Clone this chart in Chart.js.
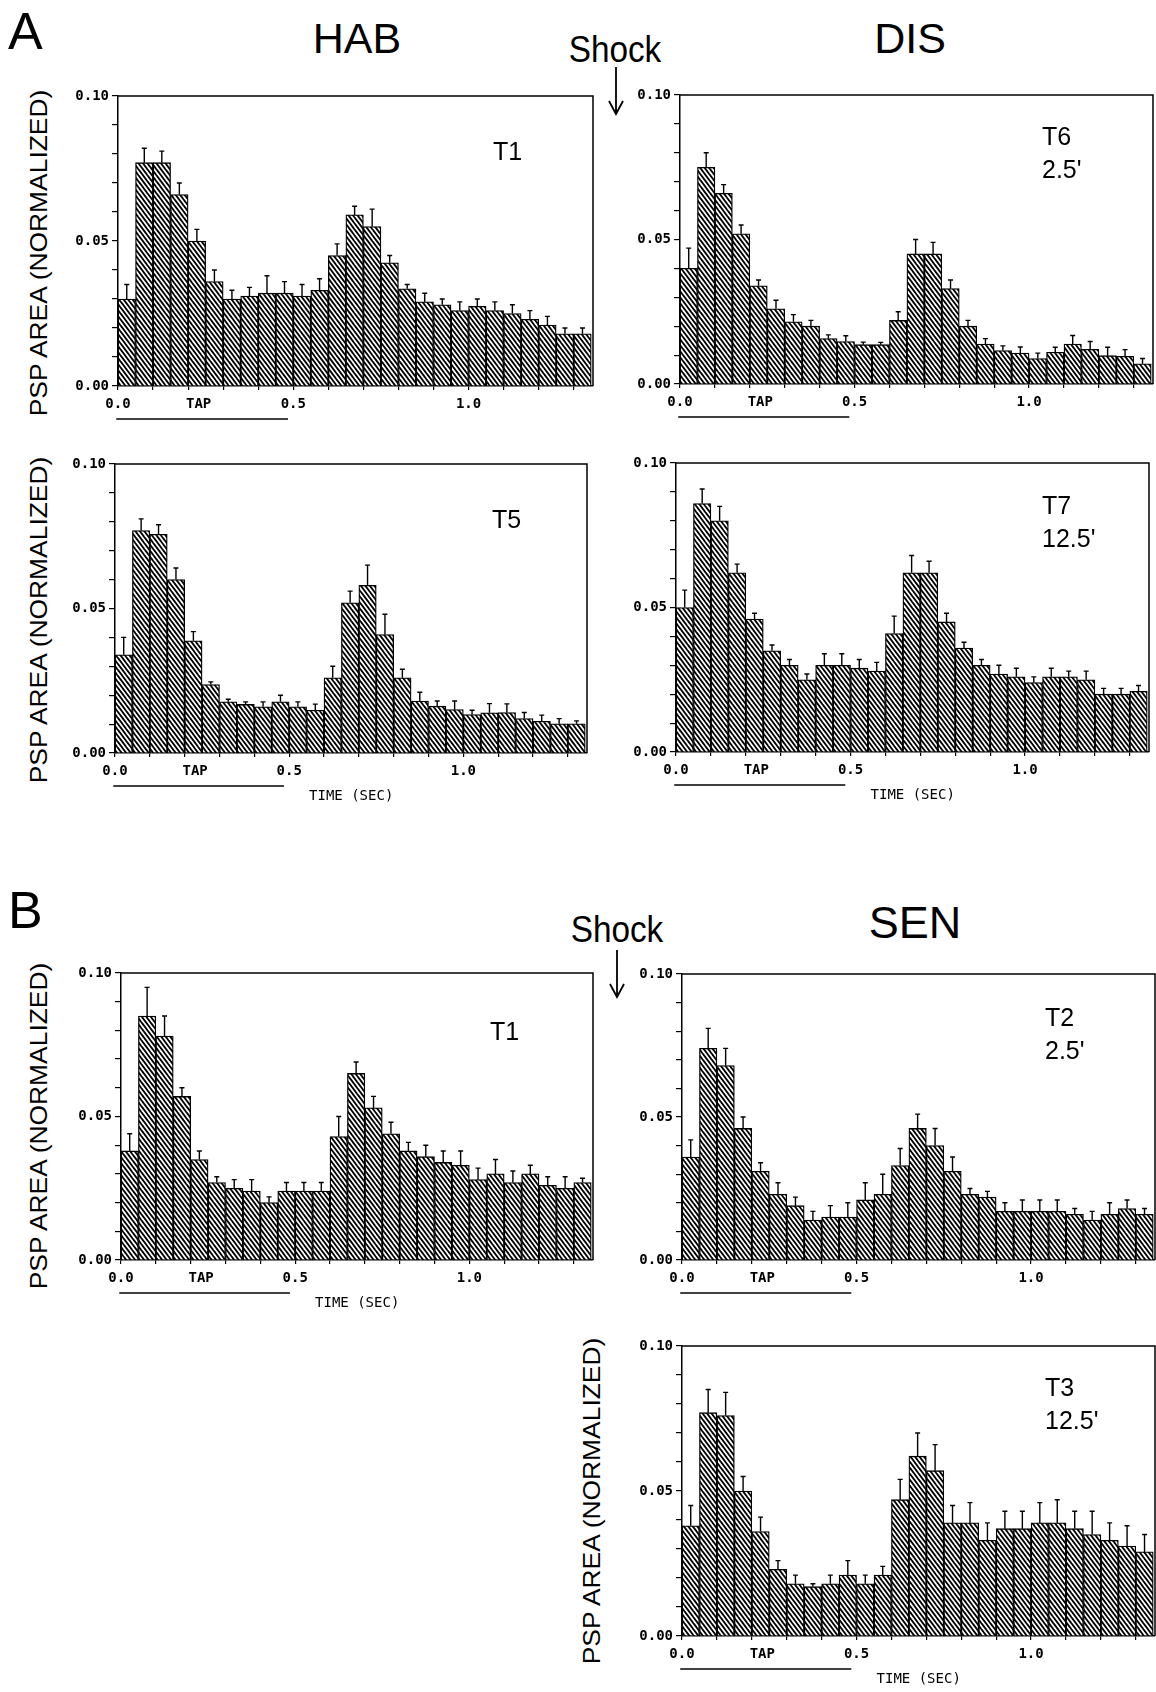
<!DOCTYPE html>
<html>
<head>
<meta charset="utf-8">
<script src="https://cdn.jsdelivr.net/npm/chart.js@4.4.1/dist/chart.umd.min.js"></script>
<style>
html, body { margin: 0; padding: 0; background: #fff; overflow: hidden; }
#page { position: relative; width: 1156px; height: 1692px; font-family: "Liberation Sans", Arial, sans-serif; color: #000; }
.box { position: absolute; }
.lbl { position: absolute; white-space: nowrap; line-height: 1; }
.ctr { transform: translateX(-50%); }
.ytitle { position: absolute; white-space: nowrap; font-size: 24px; line-height: 1;
  transform: translate(-50%, -50%) rotate(-90deg) scaleX(1.1); }
svg { position: absolute; overflow: visible; }
</style>
</head>
<body>
<div id="page">
  <div class="lbl" style="left:8px;top:5px;font-size:52px">A</div>
  <div class="lbl ctr" style="left:357px;top:17px;font-size:43px">HAB</div>
  <div class="lbl ctr" style="left:910px;top:17px;font-size:43px">DIS</div>
  <div class="lbl ctr" style="left:615px;top:31px;font-size:37px;transform:translateX(-50%) scaleX(0.9)">Shock</div>
  <svg style="left:0;top:0" width="1" height="1">
    <path d="M616 67 L616 114 M609 101 L616 114 L623 101" stroke="#000" stroke-width="1.8" fill="none"/>
  </svg>

  <div class="lbl" style="left:8px;top:884px;font-size:52px">B</div>
  <div class="lbl ctr" style="left:915px;top:900px;font-size:45px">SEN</div>
  <div class="lbl ctr" style="left:617px;top:911px;font-size:37px;transform:translateX(-50%) scaleX(0.9)">Shock</div>
  <svg style="left:0;top:0" width="1" height="1">
    <path d="M617 950 L617 997 M610 984 L617 997 L624 984" stroke="#000" stroke-width="1.8" fill="none"/>
  </svg>
</div>
<script>
// PSP area per 50 ms bin (normalized); *Err = top of the error bar
const aHabT1    = [0.030, 0.077, 0.077, 0.066, 0.050, 0.036, 0.030, 0.031, 0.032, 0.032, 0.031, 0.033, 0.045, 0.059, 0.055, 0.0425, 0.0335, 0.029, 0.028, 0.026, 0.0275, 0.026, 0.025, 0.023, 0.021, 0.018, 0.018];
const aHabT1Err = [0.035, 0.082, 0.081, 0.070, 0.054, 0.040, 0.033, 0.034, 0.038, 0.036, 0.035, 0.037, 0.049, 0.062, 0.061, 0.045, 0.035, 0.032, 0.030, 0.029, 0.030, 0.029, 0.028, 0.026, 0.024, 0.020, 0.020];

const aDisT6    = [0.040, 0.075, 0.066, 0.052, 0.034, 0.026, 0.0215, 0.020, 0.0157, 0.0147, 0.0136, 0.0136, 0.022, 0.045, 0.045, 0.033, 0.020, 0.0138, 0.0116, 0.0107, 0.0088, 0.011, 0.0138, 0.012, 0.0098, 0.0096, 0.007];
const aDisT6Err = [0.047, 0.080, 0.069, 0.055, 0.036, 0.029, 0.024, 0.022, 0.017, 0.0167, 0.0145, 0.0144, 0.025, 0.050, 0.049, 0.036, 0.022, 0.0157, 0.0132, 0.0128, 0.0107, 0.0127, 0.0168, 0.0147, 0.0127, 0.0119, 0.0088];

const aHabT5    = [0.034, 0.077, 0.0757, 0.060, 0.0388, 0.0237, 0.0177, 0.0168, 0.016, 0.0177, 0.016, 0.0148, 0.026, 0.052, 0.058, 0.041, 0.026, 0.018, 0.0162, 0.015, 0.0133, 0.0139, 0.014, 0.0119, 0.011, 0.0101, 0.0101];
const aHabT5Err = [0.040, 0.081, 0.079, 0.064, 0.042, 0.0246, 0.0186, 0.0177, 0.0177, 0.020, 0.0177, 0.0169, 0.030, 0.056, 0.065, 0.048, 0.029, 0.021, 0.018, 0.018, 0.0148, 0.0171, 0.017, 0.014, 0.0131, 0.0119, 0.0111];

const aDisT7    = [0.050, 0.086, 0.080, 0.062, 0.046, 0.035, 0.030, 0.025, 0.030, 0.030, 0.029, 0.028, 0.041, 0.062, 0.062, 0.045, 0.036, 0.030, 0.027, 0.026, 0.024, 0.026, 0.026, 0.025, 0.020, 0.020, 0.021];
const aDisT7Err = [0.056, 0.091, 0.085, 0.065, 0.048, 0.037, 0.032, 0.027, 0.034, 0.034, 0.032, 0.031, 0.047, 0.068, 0.066, 0.048, 0.038, 0.032, 0.030, 0.029, 0.026, 0.029, 0.028, 0.028, 0.022, 0.022, 0.023];

const bHabT1    = [0.038, 0.085, 0.078, 0.057, 0.035, 0.027, 0.025, 0.024, 0.020, 0.024, 0.024, 0.024, 0.043, 0.065, 0.053, 0.044, 0.038, 0.036, 0.034, 0.033, 0.028, 0.030, 0.027, 0.030, 0.026, 0.025, 0.027];
const bHabT1Err = [0.044, 0.095, 0.085, 0.060, 0.038, 0.029, 0.028, 0.028, 0.022, 0.027, 0.027, 0.027, 0.050, 0.069, 0.057, 0.048, 0.041, 0.040, 0.038, 0.038, 0.032, 0.035, 0.031, 0.033, 0.029, 0.029, 0.0285];

const bSenT2    = [0.036, 0.074, 0.068, 0.046, 0.031, 0.023, 0.019, 0.014, 0.015, 0.015, 0.021, 0.023, 0.033, 0.046, 0.040, 0.031, 0.023, 0.022, 0.017, 0.017, 0.017, 0.017, 0.016, 0.014, 0.016, 0.018, 0.016];
const bSenT2Err = [0.042, 0.081, 0.074, 0.050, 0.034, 0.027, 0.022, 0.017, 0.019, 0.020, 0.027, 0.030, 0.039, 0.051, 0.046, 0.036, 0.025, 0.024, 0.020, 0.021, 0.021, 0.021, 0.018, 0.017, 0.020, 0.021, 0.018];

const bSenT3    = [0.038, 0.077, 0.076, 0.050, 0.036, 0.023, 0.018, 0.017, 0.018, 0.021, 0.018, 0.021, 0.047, 0.062, 0.057, 0.039, 0.039, 0.033, 0.037, 0.037, 0.039, 0.039, 0.037, 0.035, 0.033, 0.031, 0.029];
const bSenT3Err = [0.045, 0.085, 0.084, 0.055, 0.041, 0.026, 0.021, 0.018, 0.021, 0.026, 0.021, 0.024, 0.054, 0.070, 0.066, 0.045, 0.046, 0.039, 0.043, 0.043, 0.046, 0.047, 0.043, 0.043, 0.039, 0.038, 0.035];

const BIN = 0.05;            // bin width, sec
const X_MAX = 1.355;
const X_TICKS = [0, 0.1, 0.2, 0.3, 0.4, 0.5, 0.6, 0.7, 0.8, 0.9, 1.0, 1.1, 1.2, 1.3];
const X_LABELS = { "0": "0.0", "0.5": "0.5", "1": "1.0" };
const TAP_POS = 0.23;        // where "TAP" sits under the axis
const TAP_SPAN = [-0.005, 0.485];
const TIME_POS = 0.678;
const Y_TICKS = [0, 0.01, 0.02, 0.03, 0.04, 0.05, 0.06, 0.07, 0.08, 0.09, 0.10];

// layout: plot area [left, top, width, height] in page px
const panels = [
  { area: [118, 96, 475, 290],  means: aHabT1, err: aHabT1Err, label: ["T1"],          labelAt: [375, 64], yTitle: [39, 253],  time: false },
  { area: [680, 95, 473, 289],  means: aDisT6, err: aDisT6Err, label: ["T6", "2.5'"],  labelAt: [362, 50], yTitle: null,       time: false },
  { area: [115, 464, 472, 289], means: aHabT5, err: aHabT5Err, label: ["T5"],          labelAt: [377, 64], yTitle: [39, 620],  time: true },
  { area: [676, 463, 473, 289], means: aDisT7, err: aDisT7Err, label: ["T7", "12.5'"], labelAt: [366, 51], yTitle: null,       time: true },
  { area: [121, 973, 472, 287], means: bHabT1, err: bHabT1Err, label: ["T1"],          labelAt: [369, 67], yTitle: [39, 1126], time: true },
  { area: [682, 974, 473, 286], means: bSenT2, err: bSenT2Err, label: ["T2", "2.5'"],  labelAt: [363, 52], yTitle: null,       time: false },
  { area: [682, 1346, 473, 290], means: bSenT3, err: bSenT3Err, label: ["T3", "12.5'"], labelAt: [363, 50], yTitle: [592, 1501], time: true },
];

const AX_W = 60, AX_H = 60, PAD_T = 10, PAD_R = 10;
const TICK_FONT = { family: "DejaVu Sans Mono", size: 14, weight: "bold" };
const page = document.getElementById("page");

function hatch(ctx) {
  const c = document.createElement("canvas");
  c.width = 9; c.height = 12;
  const g = c.getContext("2d");
  g.fillStyle = "#fff";
  g.fillRect(0, 0, 9, 12);
  g.strokeStyle = "#000";
  g.lineWidth = 1.9;
  for (const x0 of [-9, -4.5, 0, 4.5, 9]) {
    g.beginPath();
    g.moveTo(x0 - 1.5, -2);
    g.lineTo(x0 + 10.5, 14);
    g.stroke();
  }
  return ctx.createPattern(c, "repeat");
}

function drawPanel(p) {
  const [l, t, w, h] = p.area;
  const wrap = document.createElement("div");
  wrap.className = "box";
  wrap.style.left = (l - AX_W) + "px";
  wrap.style.top = (t - PAD_T) + "px";
  const cv = document.createElement("canvas");
  cv.width = w + AX_W + PAD_R;
  cv.height = h + PAD_T + AX_H;
  wrap.appendChild(cv);
  page.appendChild(wrap);

  if (p.yTitle) {
    const d = document.createElement("div");
    d.className = "ytitle";
    d.style.left = p.yTitle[0] + "px";
    d.style.top = p.yTitle[1] + "px";
    d.textContent = "PSP AREA (NORMALIZED)";
    page.appendChild(d);
  }

  const ctx = cv.getContext("2d");
  const centers = p.means.map((_, i) => (i + 0.5) * BIN);

  const decor = {
    id: "decor",
    afterDatasetsDraw(chart) {
      const { ctx, chartArea: a, scales: { x, y } } = chart;
      ctx.save();
      ctx.strokeStyle = "#000";
      ctx.fillStyle = "#000";
      // error bars
      ctx.lineWidth = 1.4;
      p.err.forEach((top, i) => {
        const px = x.getPixelForValue(centers[i]);
        const y0 = y.getPixelForValue(p.means[i]);
        const y1 = y.getPixelForValue(top);
        ctx.beginPath();
        ctx.moveTo(px, y0);
        ctx.lineTo(px, y1);
        ctx.moveTo(px - 2.5, y1);
        ctx.lineTo(px + 2.5, y1);
        ctx.stroke();
      });
      // top and right of the frame
      ctx.lineWidth = 1.5;
      ctx.beginPath();
      ctx.moveTo(a.left, a.top);
      ctx.lineTo(a.right, a.top);
      ctx.lineTo(a.right, a.bottom);
      ctx.stroke();
      // tap duration bar
      const ty = a.bottom + 33;
      ctx.beginPath();
      ctx.moveTo(x.getPixelForValue(TAP_SPAN[0]), ty);
      ctx.lineTo(x.getPixelForValue(TAP_SPAN[1]), ty);
      ctx.stroke();
      ctx.font = '14px "DejaVu Sans Mono"';
      ctx.textAlign = "center";
      ctx.textBaseline = "middle";
      if (p.time) ctx.fillText("TIME (SEC)", x.getPixelForValue(TIME_POS), a.bottom + 43);
      // trial label
      ctx.font = '25px "Liberation Sans"';
      ctx.textAlign = "left";
      ctx.textBaseline = "alphabetic";
      p.label.forEach((s, k) => ctx.fillText(s, a.left + p.labelAt[0], a.top + p.labelAt[1] + k * 33));
      ctx.restore();
    },
  };

  new Chart(ctx, {
    type: "bar",
    data: {
      datasets: [{
        data: centers.map((c, i) => ({ x: c, y: p.means[i] })),
        backgroundColor: hatch(ctx),
        borderColor: "#000",
        borderWidth: 1.3,
        barThickness: "flex",
        barPercentage: 1,
        categoryPercentage: 1,
      }],
    },
    options: {
      responsive: false,
      animation: false,
      events: [],
      layout: { padding: { left: 0, top: PAD_T, right: PAD_R, bottom: 0 } },
      plugins: { legend: { display: false }, tooltip: { enabled: false } },
      scales: {
        x: {
          type: "linear",
          min: 0,
          max: X_MAX,
          offset: false,
          afterBuildTicks: (s) => { s.ticks = X_TICKS.concat([TAP_POS]).map((v) => ({ value: v })); },
          afterFit: (s) => { s.height = AX_H; s.paddingLeft = 0; s.paddingRight = 0; },
          ticks: {
            autoSkip: false,
            maxRotation: 0,
            padding: 6,
            color: "#000",
            font: TICK_FONT,
            callback: (v) => (v === TAP_POS ? "TAP" : (X_LABELS[String(v)] || "")),
          },
          grid: {
            offset: false,
            drawOnChartArea: false,
            tickLength: 4,
            lineWidth: 1.2,
            color: "#000",
            tickColor: (c) => (c.tick && c.tick.value === TAP_POS ? "rgba(0,0,0,0)" : "#000"),
          },
          border: { color: "#000", width: 1.5 },
        },
        y: {
          min: 0,
          max: 0.1,
          afterBuildTicks: (s) => { s.ticks = Y_TICKS.map((v) => ({ value: v })); },
          afterFit: (s) => { s.width = AX_W; s.paddingTop = 0; s.paddingBottom = 0; },
          ticks: {
            padding: 3,
            color: "#000",
            font: TICK_FONT,
            callback: (v) => (Math.round(v * 100) % 5 === 0 ? v.toFixed(2) : ""),
          },
          grid: { drawOnChartArea: false, tickLength: 6, lineWidth: 1.2, color: "#000" },
          border: { color: "#000", width: 1.5 },
        },
      },
    },
    plugins: [decor],
  });
}

panels.forEach(drawPanel);
</script>
</body>
</html>
